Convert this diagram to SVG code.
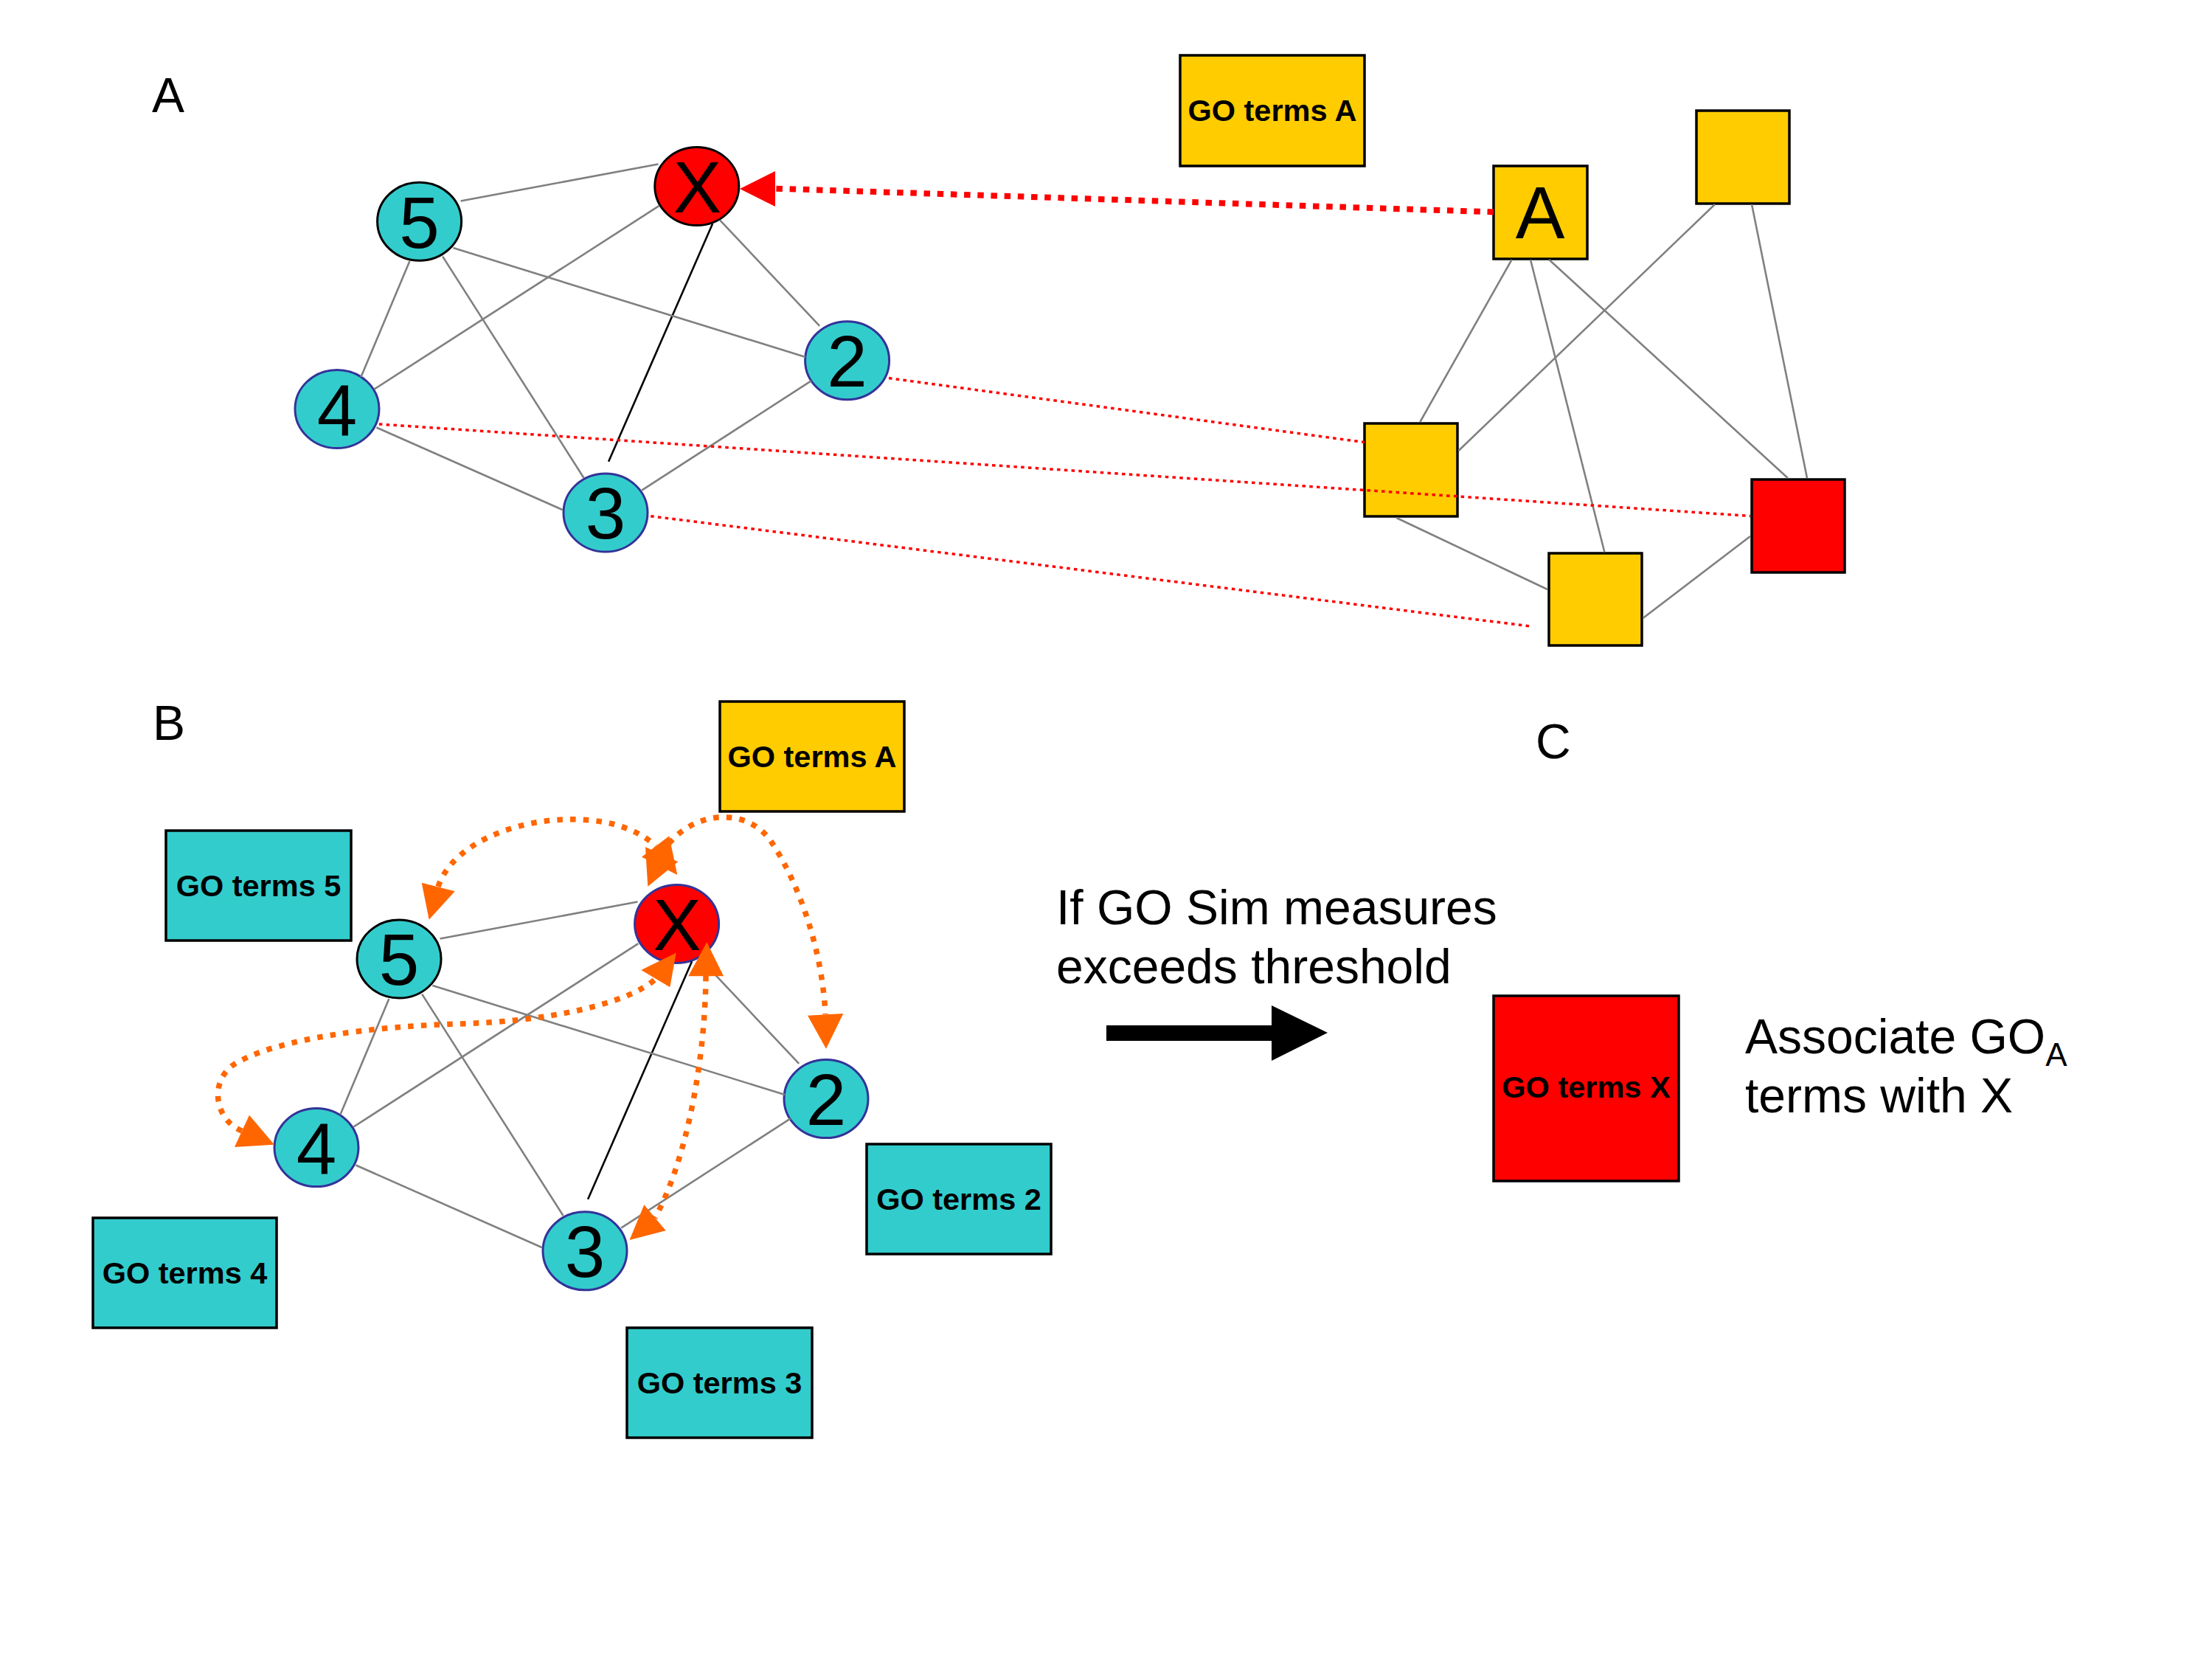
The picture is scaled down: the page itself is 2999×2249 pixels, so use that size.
<svg xmlns="http://www.w3.org/2000/svg" width="2999" height="2249" viewBox="0 0 2999 2249">
<style>
.bg{fill:#fff}
.edge{stroke:#808080;stroke-width:2.6;fill:none}
.blk{stroke:#000;stroke-width:2.6;fill:none}
.rdot{stroke:#FF0000;stroke-width:3.5;stroke-dasharray:4.5 5.3;fill:none}
.rthick{stroke:#FF0000;stroke-width:8;stroke-dasharray:8.5 9.7;fill:none}
.odot{stroke:#FF6600;stroke-width:7.5;stroke-dasharray:7.5 10.2;fill:none}
.ohead{fill:#FF6600}
.rhead{fill:#FF0000}
.cyan{fill:#33CCCC}
.red{fill:#FF0000}
.yel{fill:#FFCC00}
.nb{stroke:#333399;stroke-width:3}
.nk{stroke:#000;stroke-width:3}
.box{stroke:#000;stroke-width:3.5}
.digit{font-family:"Liberation Sans",Arial,sans-serif;font-size:98px;text-anchor:middle;fill:#000}
.boxt{font-family:"Liberation Sans",Arial,sans-serif;font-weight:bold;font-size:41.5px;text-anchor:middle;fill:#000}
.lab{font-family:"Liberation Sans",Arial,sans-serif;font-size:66px;fill:#000}
</style>
<rect class="bg" x="0" y="0" width="2999" height="2249"/>

<!-- Section labels -->
<text class="lab" x="206" y="152">A</text>
<text class="lab" x="207" y="1003">B</text>
<text class="lab" x="2082" y="1028">C</text>

<!-- ===== Section A: nodes ===== -->
<g id="a-node-5"><ellipse class="cyan nk" cx="568.6" cy="300.2" rx="57" ry="53"/><text class="digit" x="568.6" y="335.5">5</text></g>
<g id="a-node-X"><ellipse class="red nk" cx="944.8" cy="252.5" rx="57" ry="53"/><text class="digit" x="945.5" y="287.5">X</text></g>
<g id="a-node-4"><ellipse class="cyan nb" cx="457" cy="554.5" rx="57" ry="53"/><text class="digit" x="457" y="589.5">4</text></g>
<g id="a-node-3"><ellipse class="cyan nb" cx="821" cy="695" rx="57" ry="53"/><text class="digit" x="821" y="730">3</text></g>
<g id="a-node-2"><ellipse class="cyan nb" cx="1148.6" cy="488.7" rx="57" ry="53"/><text class="digit" x="1148.6" y="523.7">2</text></g>

<g id="a-goA"><rect class="yel box" x="1600" y="75" width="250" height="150"/><text class="boxt" x="1725" y="164">GO terms A</text></g>
<g id="a-sq-A"><rect class="yel box" x="2025" y="225" width="127" height="126"/><text class="digit" x="2088" y="323" style="font-size:100px">A</text></g>
<g id="a-sq-top"><rect class="yel box" x="2300" y="150" width="126" height="126"/></g>
<g id="a-sq-left"><rect class="yel box" x="1850" y="574" width="126" height="126"/></g>
<g id="a-sq-bottom"><rect class="yel box" x="2100" y="750" width="126" height="125"/></g>
<g id="a-sq-red"><rect class="red box" x="2375" y="650" width="126" height="126"/></g>

<!-- ===== Section B: nodes ===== -->
<g id="b-goA"><rect class="yel box" x="976" y="951" width="250" height="149"/><text class="boxt" x="1101" y="1039.5">GO terms A</text></g>
<g id="b-go5"><rect class="cyan box" x="225" y="1126" width="251" height="149"/><text class="boxt" x="350.5" y="1214.5">GO terms 5</text></g>
<g id="b-go4"><rect class="cyan box" x="126" y="1651" width="249" height="149"/><text class="boxt" x="250.5" y="1739.5">GO terms 4</text></g>
<g id="b-go3"><rect class="cyan box" x="850" y="1800" width="251" height="149"/><text class="boxt" x="975.5" y="1888.5">GO terms 3</text></g>
<g id="b-go2"><rect class="cyan box" x="1175" y="1551" width="250" height="149"/><text class="boxt" x="1300" y="1639.5">GO terms 2</text></g>

<g id="b-node-5"><ellipse class="cyan nk" cx="541" cy="1300" rx="57" ry="53"/><text class="digit" x="541" y="1335">5</text></g>
<g id="b-node-X"><ellipse class="red nb" cx="917.6" cy="1252.4" rx="57" ry="53"/><text class="digit" x="918" y="1287.5">X</text></g>
<g id="b-node-4"><ellipse class="cyan nb" cx="429" cy="1555.6" rx="57" ry="53"/><text class="digit" x="429" y="1590.6">4</text></g>
<g id="b-node-3"><ellipse class="cyan nb" cx="793" cy="1695.8" rx="57" ry="53"/><text class="digit" x="793" y="1730.8">3</text></g>
<g id="b-node-2"><ellipse class="cyan nb" cx="1120" cy="1489.6" rx="57" ry="53"/><text class="digit" x="1120" y="1524.6">2</text></g>

<!-- ===== Section C ===== -->
<g id="c-text1"><text class="lab" x="1432" y="1253">If GO Sim measures</text><text class="lab" x="1432" y="1333">exceeds threshold</text></g>
<g id="c-arrow"><polygon fill="#000" points="1500,1390 1724,1390 1724,1363 1800,1400 1724,1438 1724,1411 1500,1411"/></g>
<g id="c-goX"><rect class="red box" x="2025" y="1350" width="251" height="251"/><text class="boxt" x="2150.5" y="1488">GO terms X</text></g>
<g id="c-text2"><text class="lab" x="2366" y="1428">Associate GO<tspan style="font-size:44px" dy="17">A</tspan></text><text class="lab" x="2366" y="1508">terms with X</text></g>

<!-- ===== Connectors ===== -->
<g id="connectors">
  <!-- A network -->
  <line class="edge" x1="624.6" y1="272.5" x2="892.5" y2="222.5"/>
  <line class="edge" x1="893.4" y1="279.1" x2="507.2" y2="527.7"/>
  <line class="blk" x1="966.1" y1="303.2" x2="825.1" y2="625.7"/>
  <line class="edge" x1="976" y1="298.4" x2="1111.2" y2="441.8"/>
  <line class="edge" x1="614.4" y1="336.1" x2="1092" y2="484"/>
  <line class="edge" x1="555.4" y1="353.9" x2="489.4" y2="511.1"/>
  <line class="edge" x1="600.1" y1="347.6" x2="791.6" y2="648"/>
  <line class="edge" x1="510.4" y1="579.5" x2="763" y2="691.2"/>
  <line class="edge" x1="870.2" y1="664.6" x2="1099.7" y2="516.4"/>
  <!-- right network -->
  <line class="edge" x1="2049.6" y1="352" x2="1925.3" y2="572"/>
  <line class="edge" x1="2075" y1="352" x2="2175.4" y2="748.5"/>
  <line class="edge" x1="2100.2" y1="352" x2="2423.8" y2="648"/>
  <line class="edge" x1="2325" y1="277" x2="1977.5" y2="611"/>
  <line class="edge" x1="2375" y1="277" x2="2450" y2="648"/>
  <line class="edge" x1="1893.3" y1="702" x2="2098" y2="799"/>
  <line class="edge" x1="2227.5" y1="838" x2="2373" y2="727"/>
  <!-- red mapping lines -->
  <line class="rdot" x1="1205" y1="512.6" x2="1850" y2="599.6"/>
  <line class="rdot" x1="513.9" y1="575" x2="2373" y2="699.5"/>
  <line class="rdot" x1="882.2" y1="699.7" x2="2075" y2="849"/>
  <line class="rthick" x1="2025" y1="287.4" x2="1051" y2="255.6"/>
  <polygon class="rhead" points="1003,256 1051,232 1051,280"/>
  <!-- B network -->
  <line class="edge" x1="596.6" y1="1272.5" x2="864.5" y2="1222.5"/>
  <line class="edge" x1="865.4" y1="1279.1" x2="479.2" y2="1527.7"/>
  <line class="blk" x1="938.1" y1="1303.2" x2="797.1" y2="1625.7"/>
  <line class="edge" x1="948" y1="1298.4" x2="1083.2" y2="1441.8"/>
  <line class="edge" x1="586.4" y1="1336.1" x2="1064" y2="1484"/>
  <line class="edge" x1="527.4" y1="1353.9" x2="461.4" y2="1511.1"/>
  <line class="edge" x1="572.1" y1="1347.6" x2="763.6" y2="1648"/>
  <line class="edge" x1="482.4" y1="1579.5" x2="735" y2="1691.2"/>
  <line class="edge" x1="842.2" y1="1664.6" x2="1071.7" y2="1516.4"/>
  <!-- orange GO similarity arrows -->
  <path class="odot" d="M 594,1202 C 625,1110 820,1080 889,1147"/>
  <path class="odot" d="M 897,1158 C 930,1100 1010,1090 1045,1140 C 1085,1200 1115,1290 1119,1375"/>
  <path class="odot" d="M 328,1533 C 290,1518 282,1462 322,1440 C 380,1408 500,1392 620,1388 C 740,1385 850,1362 889,1327"/>
  <path class="odot" d="M 957,1323 C 956,1440 930,1575 888,1651"/>
  <polygon class="ohead" points="581.7,1246.7 571.7,1196.7 616.7,1208.3"/>
  <polygon class="ohead" points="918.3,1186 870,1161.7 907.3,1133.3"/>
  <polygon class="ohead" points="878.3,1201.7 875,1148.3 919.3,1168.3"/>
  <polygon class="ohead" points="1120,1421.7 1095,1376.7 1143.3,1374"/>
  <polygon class="ohead" points="371.9,1551.7 318,1555 338,1511.7"/>
  <polygon class="ohead" points="916.7,1291.7 869.3,1315 908.3,1338.3"/>
  <polygon class="ohead" points="958.3,1277.3 933.3,1323.3 981,1323.3"/>
  <polygon class="ohead" points="853.5,1681 873.3,1633.3 902.7,1668.3"/>
</g>
</svg>
